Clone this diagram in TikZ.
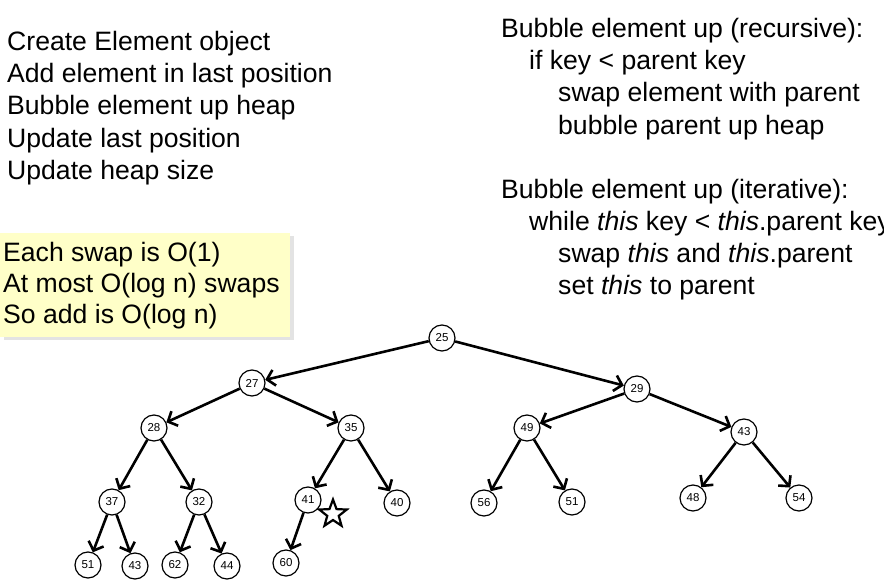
\documentclass[tikz,border=0pt]{standalone}
\usepackage{fontspec}
\setmainfont{Liberation Sans}
\usepackage{xcolor}
\usetikzlibrary{shapes.geometric,arrows.meta,positioning,shadows}
\definecolor{noteyellow}{RGB}{255,255,200}

\begin{document}
\begin{tikzpicture}[x=1pt, y=-1pt,
    heap/.style={circle, draw, line width=1.2pt, minimum size=26pt, inner sep=0pt, font=\fontsize{11.5}{13}\selectfont},
    edge/.style={-{Straight Barb[length=7.5pt,width=16pt]}, line width=2.6pt},
    txt/.style={anchor=north west, align=left, inner sep=0pt, font=\fontsize{26.6}{32.2}\selectfont},
    notebox/.style={rectangle, fill=noteyellow, anchor=north west, text width=284pt, inner xsep=3pt, inner ysep=0pt, minimum height=104pt, align=flush left, font=\fontsize{26.6}{31}\selectfont, drop shadow={shadow xshift=4pt, shadow yshift=-3pt, fill=black!22}}
]
\useasboundingbox (0,0) rectangle (884,583);
\clip (0,0) rectangle (884,583);

% Text
\node[txt] (steps) at (7,31) {Create Element object\\Add element in last position\\Bubble element up heap\\Update last position\\Update heap size};
\node[txt] (algo) at (501,18) {Bubble element up (recursive):\\
  \hspace*{28pt}if key < parent key\\
  \hspace*{57pt}swap element with parent\\
  \hspace*{57pt}bubble parent up heap\\[32pt]
  Bubble element up (iterative):\\
  \hspace*{28pt}while \textit{this} key < \textit{this}.parent key\\
  \hspace*{57pt}swap \textit{this} and \textit{this}.parent\\
  \hspace*{57pt}set \textit{this} to parent};
\node[notebox] (cost) at (0,233) {Each swap is O(1)\\At most O(log n) swaps\\So add is O(log n)};

% Nodes
\node[heap] (h25) at (442,338) {25};
\node[heap] (h27) at (252,383) {27};
\node[heap] (h29) at (637,389) {29};
\node[heap] (h28) at (154,428) {28};
\node[heap] (h35) at (351,428) {35};
\node[heap] (h49) at (527,428) {49};
\node[heap] (h43) at (744,432) {43};
\node[heap] (h37) at (112,502) {37};
\node[heap] (h32) at (199,502) {32};
\node[heap] (h41) at (308,500) {41};
\node[heap] (h40) at (397,503) {40};
\node[heap] (h56) at (484,503) {56};
\node[heap] (h51) at (572,502) {51};
\node[heap] (h48) at (693,498) {48};
\node[heap] (h54) at (799,498) {54};
\node[heap] (h51a) at (88,565) {51};
\node[heap] (h43a) at (135,566) {43};
\node[heap] (h62) at (175,565) {62};
\node[heap] (h44) at (227,566) {44};
\node[heap] (h60) at (286,563) {60};
\node[star, star points=5, star point ratio=2.4, draw, line width=2.2pt, minimum size=29pt, inner sep=0pt] (star) at (333,514) {};

% Arrows
\draw[edge] (h25) -- (h27);
\draw[edge] (h25) -- (h29);
\draw[edge] (h27) -- (h28);
\draw[edge] (h27) -- (h35);
\draw[edge] (h28) -- (h37);
\draw[edge] (h28) -- (h32);
\draw[edge] (h35) -- (h41);
\draw[edge] (h35) -- (h40);
\draw[edge] (h37) -- (h51a);
\draw[edge] (h37) -- (h43a);
\draw[edge] (h32) -- (h62);
\draw[edge] (h32) -- (h44);
\draw[edge] (h41) -- (h60);
\draw[edge] (h29) -- (h49);
\draw[edge] (h29) -- (h43);
\draw[edge] (h49) -- (h56);
\draw[edge] (h49) -- (h51);
\draw[edge] (h43) -- (h48);
\draw[edge] (h43) -- (h54);

\end{tikzpicture}
\end{document}
